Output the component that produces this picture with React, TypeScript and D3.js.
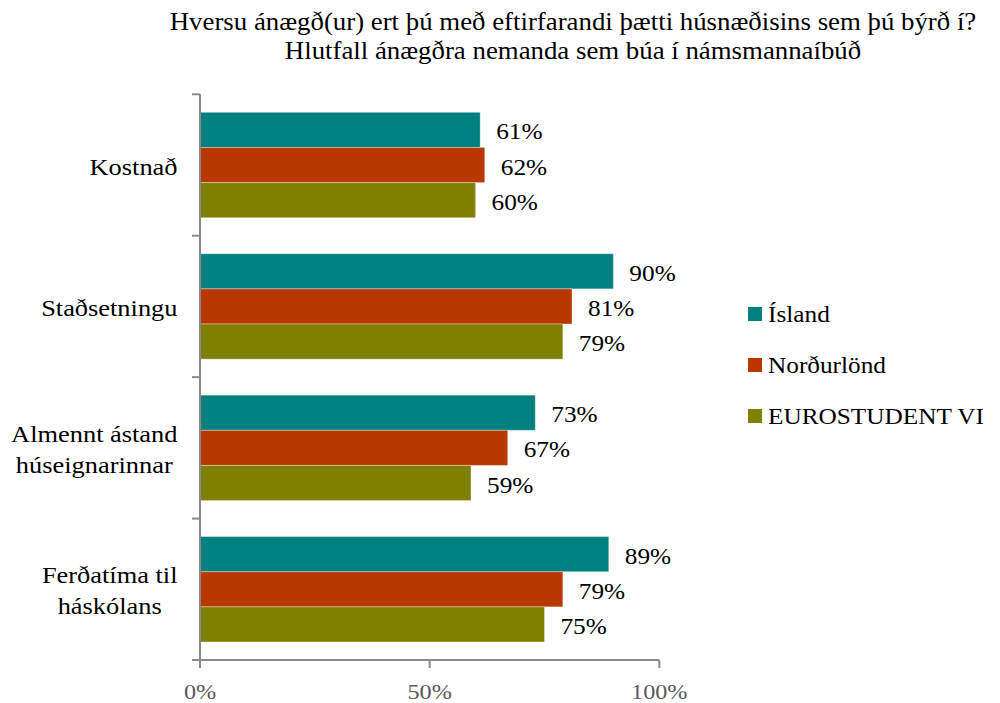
import React from "react";
import * as d3 from "d3";

const categories = ["Kostnað", "Staðsetningu", "Almennt ástand|húseignarinnar", "Ferðatíma til|háskólans"];
const seriesNames = ["Ísland", "Norðurlönd", "EUROSTUDENT VI"];
const islandValues = [61, 90, 73, 89];
const nordValues = [62, 81, 67, 79];
const euroValues = [60, 79, 59, 75];
const colors = ["#008080", "#B83800", "#808000"];
const xTicks = [0, 50, 100];
const titleLines = [
  "Hversu ánægð(ur) ert þú með eftirfarandi þætti húsnæðisins sem þú býrð í?",
  "Hlutfall ánægðra nemanda sem búa í námsmannaíbúð",
];

const W = 1000;
const H = 703;
const FONT = '"Liberation Serif"';
const SX = 1.1; // horizontal stretch of the reference text

let ctx: CanvasRenderingContext2D | null = null;
function measure(t: string, size: number) {
  if (!ctx) ctx = document.createElement("canvas").getContext("2d");
  if (!ctx) return t.length * size * 0.5;
  ctx.font = `${size}px "Liberation Serif"`;
  return ctx.measureText(t).width;
}

function T({ x, y, size, anchor = "start", fill = "#000", children }: any) {
  return (
    <text transform={`translate(${x},${y}) scale(${SX},1)`} textAnchor={anchor} fontSize={size} fill={fill}
      style={{ fontFamily: FONT }}>
      {children}
    </text>
  );
}

export default function App() {
  const left = 200, right = 659.3, top = 94.3, bottom = 660;
  const x = d3.scaleLinear().domain([0, 100]).range([left, right]);
  const y = d3.scaleBand<string>().domain(categories).range([top, bottom]).paddingInner(0).paddingOuter(0);
  const inner = d3.scaleBand<number>().domain([0, 1, 2]).range([18, y.bandwidth() - 18]);
  const series = [islandValues, nordValues, euroValues];
  const axisColor = "#898989";

  return (
    <svg width={W} height={H} style={{ position: "absolute", left: 0, top: 0 }}>
      <rect width={W} height={H} fill="#fff" />
      {titleLines.map((t, i) => (
        <T key={i} x={573} y={30 + i * 29} size={24.4} anchor="middle">{t}</T>
      ))}
      {/* bars */}
      {categories.map((c, ci) =>
        series.map((vals, si) => (
          <rect key={c + si} x={x(0)} y={(y(c) as number) + (inner(si) as number)} width={x(vals[ci]) - x(0)}
            height={inner.bandwidth()} fill={colors[si]} stroke="rgba(255,255,255,0.35)" strokeWidth={1} />
        ))
      )}
      {/* value labels */}
      {categories.map((c, ci) =>
        series.map((vals, si) => (
          <T key={"l" + c + si} x={x(vals[ci]) + 16}
            y={(y(c) as number) + (inner(si) as number) + inner.bandwidth() / 2 + 9.5} size={23}>
            {vals[ci]}%
          </T>
        ))
      )}
      {/* y axis */}
      <line x1={left} x2={left} y1={top} y2={bottom} stroke={axisColor} strokeWidth={2} />
      {[...categories.map((c) => y(c) as number), bottom].map((v, i) => (
        <line key={"yt" + i} x1={left - 8} x2={left} y1={v} y2={v} stroke={axisColor} strokeWidth={2} />
      ))}
      {/* x axis */}
      <line x1={left - 8} x2={right} y1={bottom} y2={bottom} stroke={axisColor} strokeWidth={2} />
      {xTicks.map((t) => (
        <g key={"xt" + t}>
          <line x1={x(t)} x2={x(t)} y1={bottom} y2={bottom + 8} stroke={axisColor} strokeWidth={2} />
          <T x={x(t)} y={bottom + 39} size={22} anchor="middle" fill="#595959">{t}%</T>
        </g>
      ))}
      {/* category labels */}
      {categories.map((c) => {
        const lines = c.split("|");
        const cy = (y(c) as number) + y.bandwidth() / 2;
        const maxW = Math.max(...lines.map((l) => measure(l, 24))) * SX;
        const cx = 177.5 - maxW / 2;
        return lines.map((ln, i) => (
          <T key={c + i} x={cx} y={cy + 9.5 + (i - (lines.length - 1) / 2) * 31} size={24} anchor="middle">{ln}</T>
        ));
      })}
      {/* legend */}
      {seriesNames.map((s, i) => (
        <g key={"lg" + s}>
          <rect x={748} y={314 + i * 51 - 7} width={14} height={14} fill={colors[i]} />
          <T x={768} y={314 + i * 51 + 7.5} size={23}>{s}</T>
        </g>
      ))}
    </svg>
  );
}
